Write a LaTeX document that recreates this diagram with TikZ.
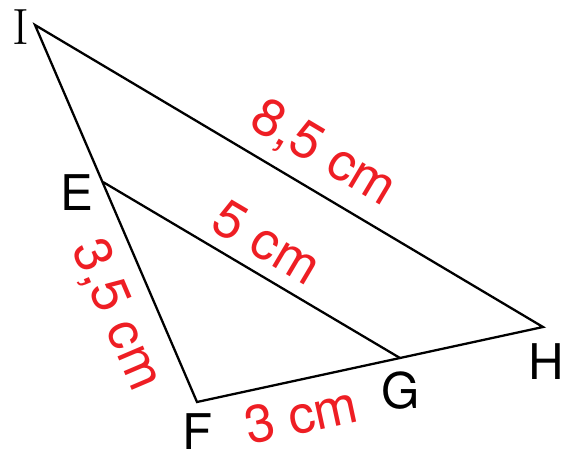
\documentclass[tikz,border=0pt]{standalone}
\usepackage{fontspec}
\setsansfont{TeX Gyre Heros}
\usetikzlibrary{calc,positioning}
\definecolor{lenred}{RGB}{238,30,36}
\tikzset{
  ptlabel/.style={font=\fontsize{28}{30}\selectfont\sffamily, inner sep=0pt},
  lenlabel/.style={font=\fontsize{30}{32}\selectfont\sffamily, text=lenred, inner sep=0pt},
  side/.style={line width=1.3pt, line join=miter},
}

\begin{document}
\begin{tikzpicture}[x=0.02cm, y=-0.02cm]
  \useasboundingbox (0,0) rectangle (569,457);

  % vertices
  \coordinate (I) at (35,25);
  \coordinate (E) at (103,182);
  \coordinate (F) at (197,402);
  \coordinate (G) at (400,358);
  \coordinate (H) at (543,327);

  \draw[side] (I) -- (F) -- (H) -- cycle;
  \draw[side] (E) -- (G);

  % point names
  \node[font=\fontsize{29}{30}\selectfont\rmfamily, inner sep=0pt] (labI) at (21,27) {I};
  \node[ptlabel] (labE) at (77,193) {E};
  \node[ptlabel] (labF) at (198,432) {F};
  \node[ptlabel] (labG) at (401,391) {G};
  \node[ptlabel] (labH) at (546,362) {H};

  % lengths
  \node[lenlabel, rotate=-30.7] (lenIH) at (323,154) {8,5 cm};
  \node[lenlabel, rotate=-30.6] (lenEG) at (267,242) {5 cm};
  \node[lenlabel, rotate=-66.9] (lenEF) at (116,315) {3,5 cm};
  \node[lenlabel, rotate=12.2] (lenFG) at (301,415) {3 cm};

\end{tikzpicture}
\end{document}
